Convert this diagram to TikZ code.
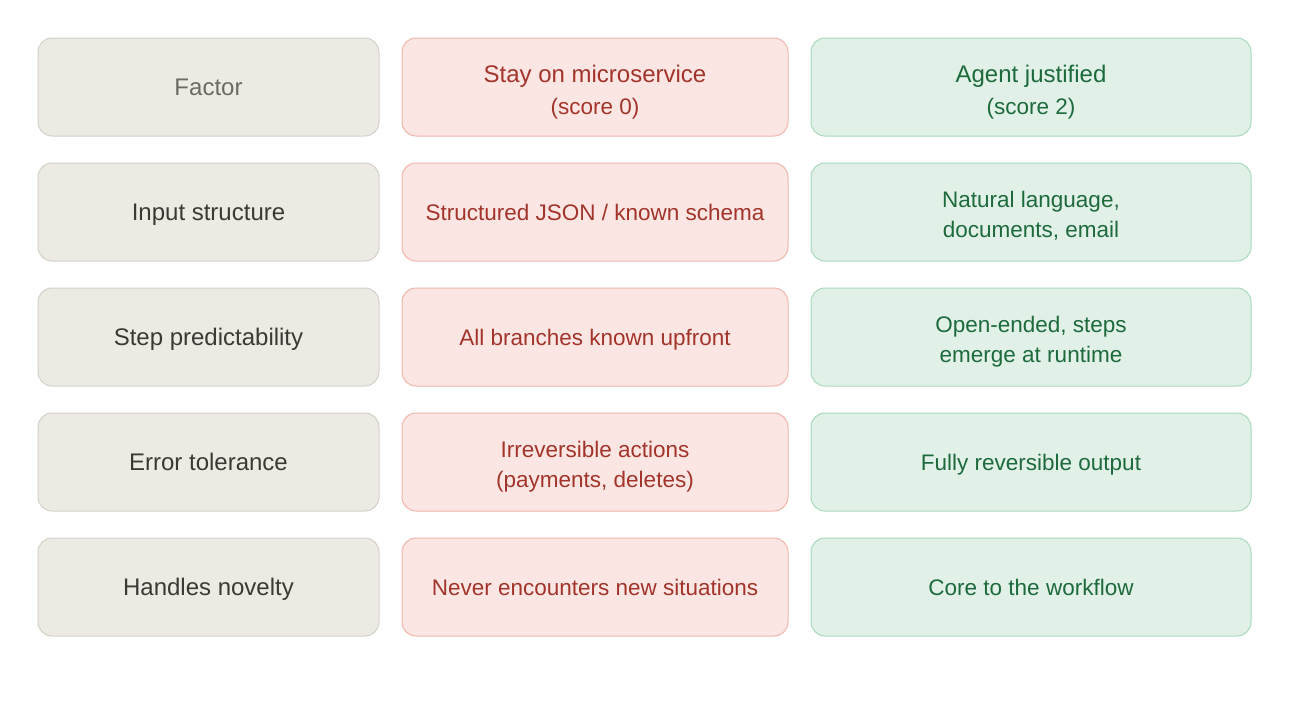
\documentclass[tikz,border=0pt]{standalone}
\usepackage{fontspec}
\setmainfont{Liberation Sans}
\definecolor{gfill}{HTML}{EDEAE3}
\definecolor{gline}{HTML}{D3D1C7}
\definecolor{gtext}{HTML}{3A3A35}
\definecolor{ghead}{HTML}{6B6A63}
\definecolor{rfill}{HTML}{FBE6E4}
\definecolor{rline}{HTML}{F0B5AB}
\definecolor{rtext}{HTML}{A2342A}
\definecolor{efill}{HTML}{E1F1E8}
\definecolor{eline}{HTML}{A9D9BB}
\definecolor{etext}{HTML}{1D6A3D}
\tikzset{
  cell/.style={draw, line width=1pt, rounded corners=14pt, minimum height=98pt, align=center, inner sep=0pt, text depth=0pt},
  factorcell/.style={cell, fill=gfill, draw=gline, text=gtext, minimum width=341pt, font=\fontsize{24}{30}\selectfont},
  headfactor/.style={factorcell, text=ghead},
  staycell/.style={cell, fill=rfill, draw=rline, text=rtext, minimum width=386pt, font=\fontsize{22.5}{30}\selectfont},
  agentcell/.style={cell, fill=efill, draw=eline, text=etext, minimum width=440pt, font=\fontsize{22.5}{30}\selectfont},
  headline/.style={font=\fontsize{24}{32}\selectfont, yshift=-3pt},
  twoline/.style={yshift=-2pt}
}
\newcommand{\subline}[1]{{\fontsize{22.5}{32}\selectfont #1}}
\begin{document}
\begin{tikzpicture}[x=1pt,y=-1pt]
\useasboundingbox (0,0) rectangle (1290,720);
\fill[white] (0,0) rectangle (1290,720);
% header row
\node[headfactor] (f0) at (208.5,87) {Factor};
\node[staycell] (s0) at (595,87) {};
\node[agentcell] (a0) at (1031,87) {};
\node[headline, text=rtext, align=center, inner sep=0pt, text depth=0pt] (s0t) at (s0) {Stay on microservice\\\subline{(score 0)}};
\node[headline, text=etext, align=center, inner sep=0pt, text depth=0pt] (a0t) at (a0) {Agent justified\\\subline{(score 2)}};
% row 1
\node[factorcell] (f1) at (208.5,212) {Input structure};
\node[staycell] (s1) at (595,212) {Structured JSON / known schema};
\node[agentcell] (a1) at (1031,212) {};
\node[twoline, text=etext, align=center, inner sep=0pt, text depth=0pt, font=\fontsize{22.5}{30}\selectfont] (a1t) at (a1) {Natural language,\\documents, email};
% row 2
\node[factorcell] (f2) at (208.5,337) {Step predictability};
\node[staycell] (s2) at (595,337) {All branches known upfront};
\node[agentcell] (a2) at (1031,337) {};
\node[twoline, text=etext, align=center, inner sep=0pt, text depth=0pt, font=\fontsize{22.5}{30}\selectfont] (a2t) at (a2) {Open-ended, steps\\emerge at runtime};
% row 3
\node[factorcell] (f3) at (208.5,462) {Error tolerance};
\node[staycell] (s3) at (595,462) {};
\node[twoline, text=rtext, align=center, inner sep=0pt, text depth=0pt, font=\fontsize{22.5}{30}\selectfont] (s3t) at (s3) {Irreversible actions\\(payments, deletes)};
\node[agentcell] (a3) at (1031,462) {Fully reversible output};
% row 4
\node[factorcell] (f4) at (208.5,587) {Handles novelty};
\node[staycell] (s4) at (595,587) {Never encounters new situations};
\node[agentcell] (a4) at (1031,587) {Core to the workflow};
\end{tikzpicture}
\end{document}
